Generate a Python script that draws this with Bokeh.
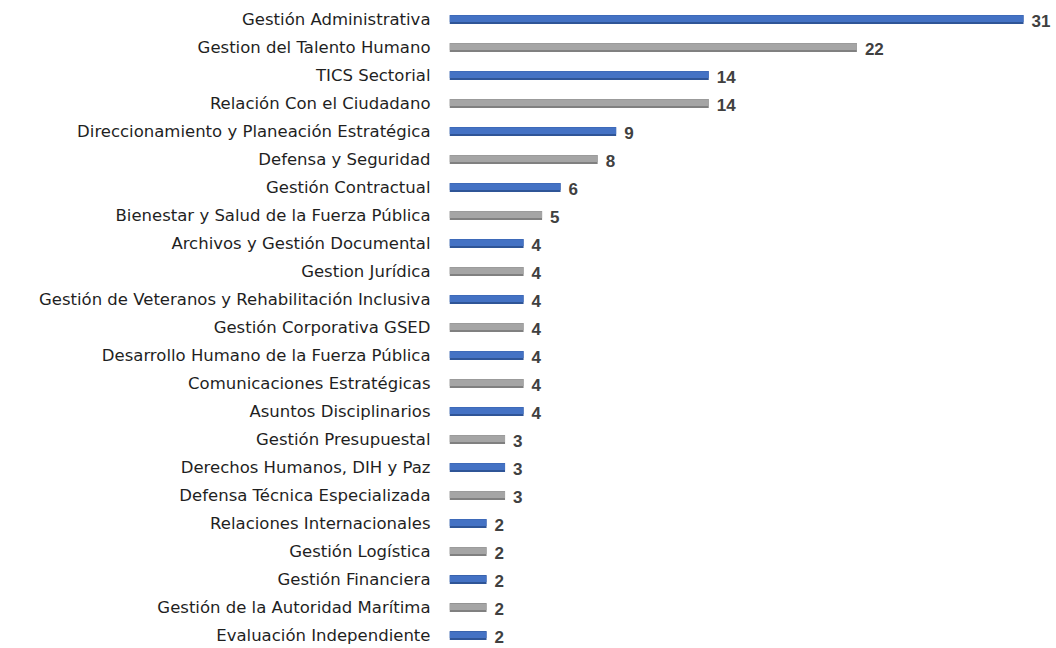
from bokeh.plotting import figure
from bokeh.models import Range1d, FixedTicker, ColumnDataSource
from bokeh.embed import file_html
from bokeh.resources import INLINE
from bokeh.core.properties import value

categories = [
    "Gestión Administrativa",
    "Gestion del Talento Humano",
    "TICS Sectorial",
    "Relación Con el Ciudadano",
    "Direccionamiento y Planeación Estratégica",
    "Defensa y Seguridad",
    "Gestión Contractual",
    "Bienestar y Salud de la Fuerza Pública",
    "Archivos y Gestión Documental",
    "Gestion Jurídica",
    "Gestión de Veteranos y Rehabilitación Inclusiva",
    "Gestión Corporativa GSED",
    "Desarrollo Humano de la Fuerza Pública",
    "Comunicaciones Estratégicas",
    "Asuntos Disciplinarios",
    "Gestión Presupuestal",
    "Derechos Humanos, DIH y Paz",
    "Defensa Técnica Especializada",
    "Relaciones Internacionales",
    "Gestión Logística",
    "Gestión Financiera",
    "Gestión de la Autoridad Marítima",
    "Evaluación Independiente",
]
values = [31, 22, 14, 14, 9, 8, 6, 5, 4, 4, 4, 4, 4, 4, 4, 3, 3, 3, 2, 2, 2, 2, 2]

n = len(categories)
ys = [-i for i in range(n)]
fills = ["#4472C4" if i % 2 == 0 else "#A5A5A5" for i in range(n)]
darks = ["#2F5597" if i % 2 == 0 else "#808080" for i in range(n)]

src = ColumnDataSource(dict(y=ys, v=values, fill=fills, dark=darks,
                            lab=[str(v) for v in values]))

p = figure(width=1056, height=646, output_backend="svg", toolbar_location=None,
           x_range=Range1d(0, 32.78), y_range=Range1d(-22.39, 0.68),
           min_border_left=449, min_border_right=0, min_border_top=0, min_border_bottom=0)
p.outline_line_color = None
p.xgrid.visible = False
p.ygrid.visible = False
p.xaxis.visible = False
p.background_fill_color = "white"
p.border_fill_color = "white"

# bars: darker base with the main colour on top, giving a shaded lower edge
p.hbar(y="y", right="v", left=0, height=0.32, source=src, fill_color="dark", line_color=None)
p.hbar(y=[y + 0.03 for y in ys], right=values, left=0, height=0.24,
       fill_color=fills, line_color=None)

p.text(x="v", y="y", text="lab", source=src, x_offset=8, y_offset=1, text_baseline="middle",
       text_align="left", text_font=value("Liberation Sans"),
       text_font_size="17px", text_font_style="bold", text_color="#404040")

ax = p.yaxis[0]
ax.ticker = FixedTicker(ticks=ys)
ax.major_label_overrides = {y: c for y, c in zip(ys, categories)}
ax.axis_line_color = None
ax.major_tick_line_color = None
ax.minor_tick_line_color = None
ax.major_tick_out = 0
ax.major_tick_in = 0
ax.major_label_standoff = 19
ax.major_label_text_font = "DejaVu Sans"
ax.major_label_text_font_size = "16.5px"
ax.major_label_text_color = "#1f1f1f"

open("out.html", "w").write(file_html(p, INLINE))
